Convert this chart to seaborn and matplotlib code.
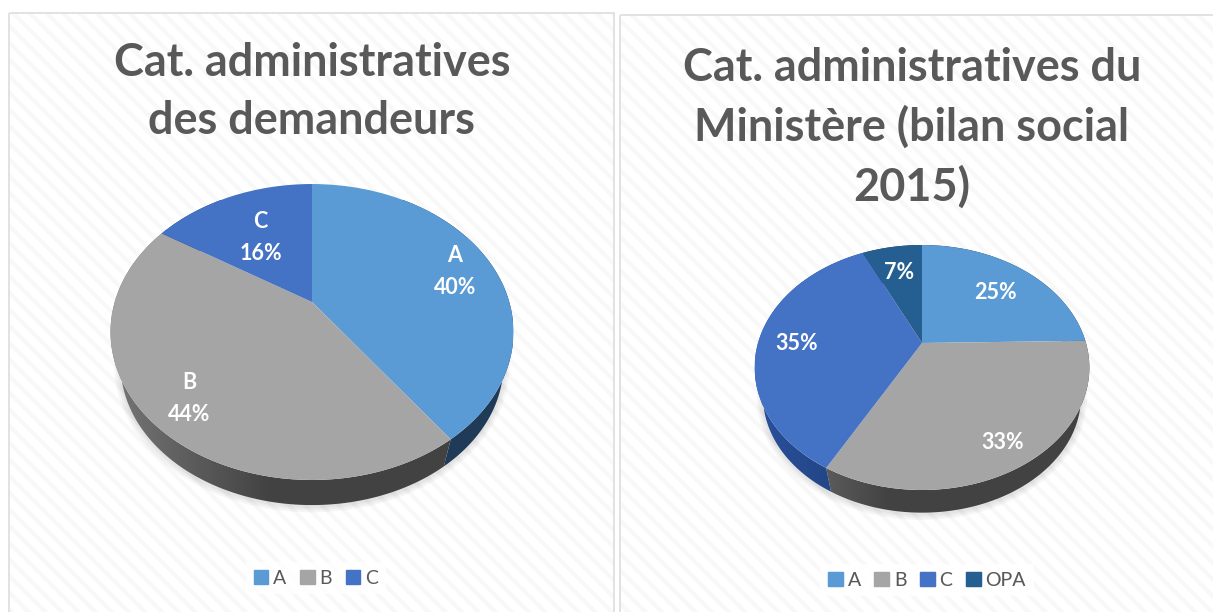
"""
Two tilted 3D-style pie charts of administrative categories.
"""

import numpy as np
import matplotlib
matplotlib.use("Agg")
import matplotlib.pyplot as plt
import seaborn as sns
from matplotlib.patches import Patch, Polygon, Rectangle
from matplotlib.path import Path
from matplotlib.transforms import Transform

# Left chart
left_title = "Cat. administratives\ndes demandeurs"
left_labels = ["A", "B", "C"]
left_values = [40, 44, 16]

# Right chart
right_title = "Cat. administratives du\nMinistère (bilan social\n2015)"
right_labels = ["A", "B", "C", "OPA"]
right_values = [24.7, 33.3, 35, 7]

colors = {"A": "#5b9bd5", "B": "#a5a5a5", "C": "#4472c4", "OPA": "#255e91"}
wall_colors = {"A": "#1f3b57", "B": "#424242", "C": "#1f3d76", "OPA": "#173a5c"}
wall_fade = {"A": 0.3, "B": 1.0, "C": 0.4, "OPA": 0.3}
TEXT_COLOR = "#595959"
FONT = "Lato"
WALL_SCALE = 0.95


class TiltTransform(Transform):
    """Perspective view of the unit circle, in figure pixels."""
    input_dims = 2
    output_dims = 2

    def __init__(self, cx, cy, a, b, k):
        super().__init__()
        self.cx, self.cy, self.a, self.b, self.k = cx, cy, a, b, k

    def transform_non_affine(self, values):
        x, y = np.asarray(values).T
        d = 1 + self.k * y
        return np.column_stack([self.cx + self.a * x / d, self.cy - self.b * y / d])

    def transform_path_non_affine(self, path):
        return Path(self.transform_non_affine(path.vertices), path.codes)


def lower_rim(tilt, rim, drop):
    # the bottom edge of the wall is a bit smaller than the top face
    center = np.array([tilt.cx, tilt.cy])
    return center + (rim - center) * WALL_SCALE + [0, drop]


def draw_pie(ax, tilt, labels, values, drop, x_range, label_radius, show_names):
    wedges, _ = ax.pie(values, colors=[colors[n] for n in labels],
                       startangle=90, counterclock=False)
    x0, x1 = x_range
    width = np.linspace(0, 1, 300)
    profile = np.interp(width, [0, 0.4, 1], [0.8, 0, 0])

    # soft shadow under the pie
    angles = np.radians(np.linspace(0, 360, 240))
    rim = tilt.transform_non_affine(np.column_stack([np.cos(angles), np.sin(angles)]))
    for lw in (9, 6, 3):
        ax.add_patch(Polygon(lower_rim(tilt, rim, drop) + [0, 1], closed=True, fill=False,
                             edgecolor=(0, 0, 0, 0.035), linewidth=lw, zorder=1))

    total = sum(values)
    for wedge, name, value, radius in zip(wedges, labels, values, label_radius):
        wedge.set_transform(tilt + ax.transData)
        wedge.set_zorder(3)
        wedge.set_linewidth(0)

        # side wall of the slice, lighter towards the left
        theta = np.radians(np.linspace(wedge.theta1, wedge.theta2, 120))
        arc = tilt.transform_non_affine(np.column_stack([np.cos(theta), np.sin(theta)]))
        wall = Polygon(np.vstack([arc, lower_rim(tilt, arc, drop)[::-1]]), closed=True,
                       facecolor="none", edgecolor="none", transform=ax.transData)
        ax.add_patch(wall)
        base = np.array(matplotlib.colors.to_rgb(wall_colors[name]))
        shade = 1 + profile * wall_fade[name]
        gradient = np.clip(shade[None, :, None] * base, 0, 1)
        image = ax.imshow(gradient, extent=(x0, x1, 560, 200), aspect="auto", zorder=2)
        image.set_clip_path(wall)

        # label in the middle of the slice
        mid = np.radians((wedge.theta1 + wedge.theta2) / 2)
        px, py = tilt.transform_non_affine([[radius * np.cos(mid), radius * np.sin(mid)]])[0]
        text = f"{value / total * 100:.0f}%"
        if show_names:
            text = f"{name}\n{text}"
        ax.text(px, py + 3, text, color="white", fontsize=15.5, fontweight="bold",
                ha="center", va="center", linespacing=1.64, zorder=4)


def add_legend(ax, labels, center):
    handles = [Patch(color=colors[n], label=n) for n in labels]
    legend = ax.legend(handles=handles, ncol=len(labels), loc="center",
                       bbox_to_anchor=center, bbox_transform=ax.transData,
                       fontsize=14, handlelength=0.75, handleheight=0.75,
                       handletextpad=0.25, columnspacing=0.7,
                       facecolor="white", edgecolor="none", framealpha=0.8,
                       fancybox=False, labelcolor=TEXT_COLOR)
    legend.set_zorder(4)
    ax.add_artist(legend)


sns.set_theme(style="white")
plt.rcParams["font.family"] = [FONT, "DejaVu Sans"]
plt.rcParams["hatch.linewidth"] = 3.0

fig = plt.figure(figsize=(12.13, 6.12), dpi=100)
ax = fig.add_axes([0, 0, 1, 1])

draw_pie(ax, TiltTransform(312, 302, 197.3, 141.9, 0.2027), left_labels, left_values,
         34, (110, 513), [0.8, 0.8, 0.6], True)
draw_pie(ax, TiltTransform(922, 343, 164, 117.6, 0.2), right_labels, right_values,
         30, (755, 1090), [0.7, 0.82, 0.77, 0.73], False)

ax.set_aspect("auto")
ax.set_xlim(0, 1213)
ax.set_ylim(612, 0)
ax.axis("off")

# panels with their faint diagonal stripes
for x, y, w, h in [(9, 13, 605, 620), (620, 15, 620, 620)]:
    ax.add_patch(Rectangle((x, y), w, h, facecolor="white", edgecolor="#f8f8f8",
                           hatch="\\\\", linewidth=0, zorder=0))
    ax.add_patch(Rectangle((x, y), w, h, fill=False, edgecolor="#e2e2e2",
                           linewidth=1.4, zorder=0.5))

ax.text(312, 92, left_title, color=TEXT_COLOR, fontsize=32.4, fontweight="bold",
        ha="center", va="center", linespacing=1.46, zorder=4)
ax.text(912, 128, right_title, color=TEXT_COLOR, fontsize=32.4, fontweight="bold",
        ha="center", va="center", linespacing=1.46, zorder=4)

add_legend(ax, left_labels, (316, 578))
add_legend(ax, right_labels, (927, 580))

fig.savefig("out.png", dpi=100)
